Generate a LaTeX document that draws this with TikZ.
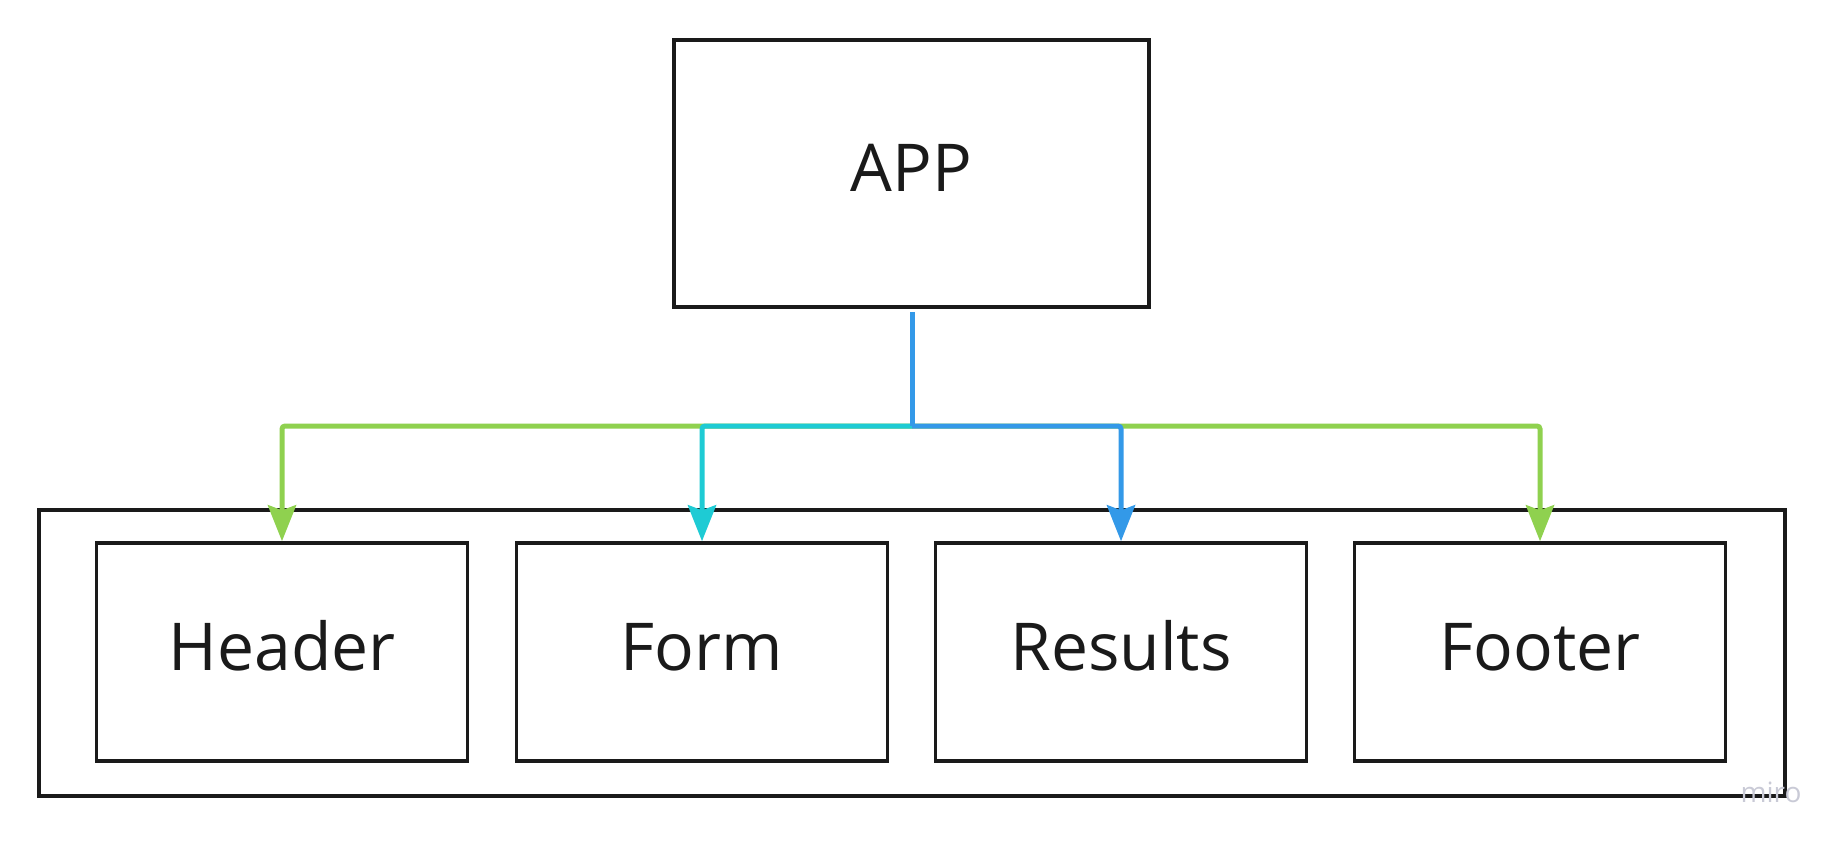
\documentclass[tikz,border=0pt]{standalone}
\usepackage{fontspec}
\setmainfont{Open Sans}
\usetikzlibrary{arrows.meta}
\definecolor{mgreen}{HTML}{8FD14F}
\definecolor{mcyan}{HTML}{1ECBD4}
\definecolor{mblue}{HTML}{3399E8}
\definecolor{ink}{HTML}{1A1A1A}
\definecolor{wm}{HTML}{C9CAD6}
\tikzset{
  box/.style={draw=ink, line width=3.5pt, inner sep=0pt, text=ink,
    font=\fontsize{66}{79}\selectfont, text height=36.5pt, text depth=0pt},
  comp/.style={box, minimum width=371pt, minimum height=218pt},
  link/.style={line width=5pt, rounded corners=3pt,
    -{Stealth[length=36pt,width=28pt,inset=5pt]}},
  trunk/.style={line width=5pt, rounded corners=3pt},
}
\begin{document}
\begin{tikzpicture}[x=1pt,y=-1pt]
\useasboundingbox (0,0) rectangle (1842,847);
\fill[white] (0,0) rectangle (1842,847);
\node[box, minimum width=475pt, minimum height=267pt] (app) at (911.5,173.5) {APP};
\node[draw=ink, line width=3.5pt, minimum width=1746pt, minimum height=286pt, inner sep=0pt] (outer) at (912,653) {};
\node[comp] (header) at (282,652) {Header};
\node[comp] (form) at (702,652) {Form};
\node[comp] (results) at (1121,652) {Results};
\node[comp] (footer) at (1540,652) {Footer};
\coordinate (top) at (912,312);
\coordinate (j) at (912,426);
\draw[link, mgreen] (j) -| (header.north);
\draw[link, mgreen] (j) -| (footer.north);
\draw[link, mcyan] (j) -| (form.north);
\draw[trunk, mblue] (top) -- (j);
\draw[link, mblue] (j) -| (results.north);
\node[text=wm, font=\fontsize{28}{32}\selectfont, inner sep=0pt] (miro) at (1771,792) {miro};
\end{tikzpicture}
\end{document}
